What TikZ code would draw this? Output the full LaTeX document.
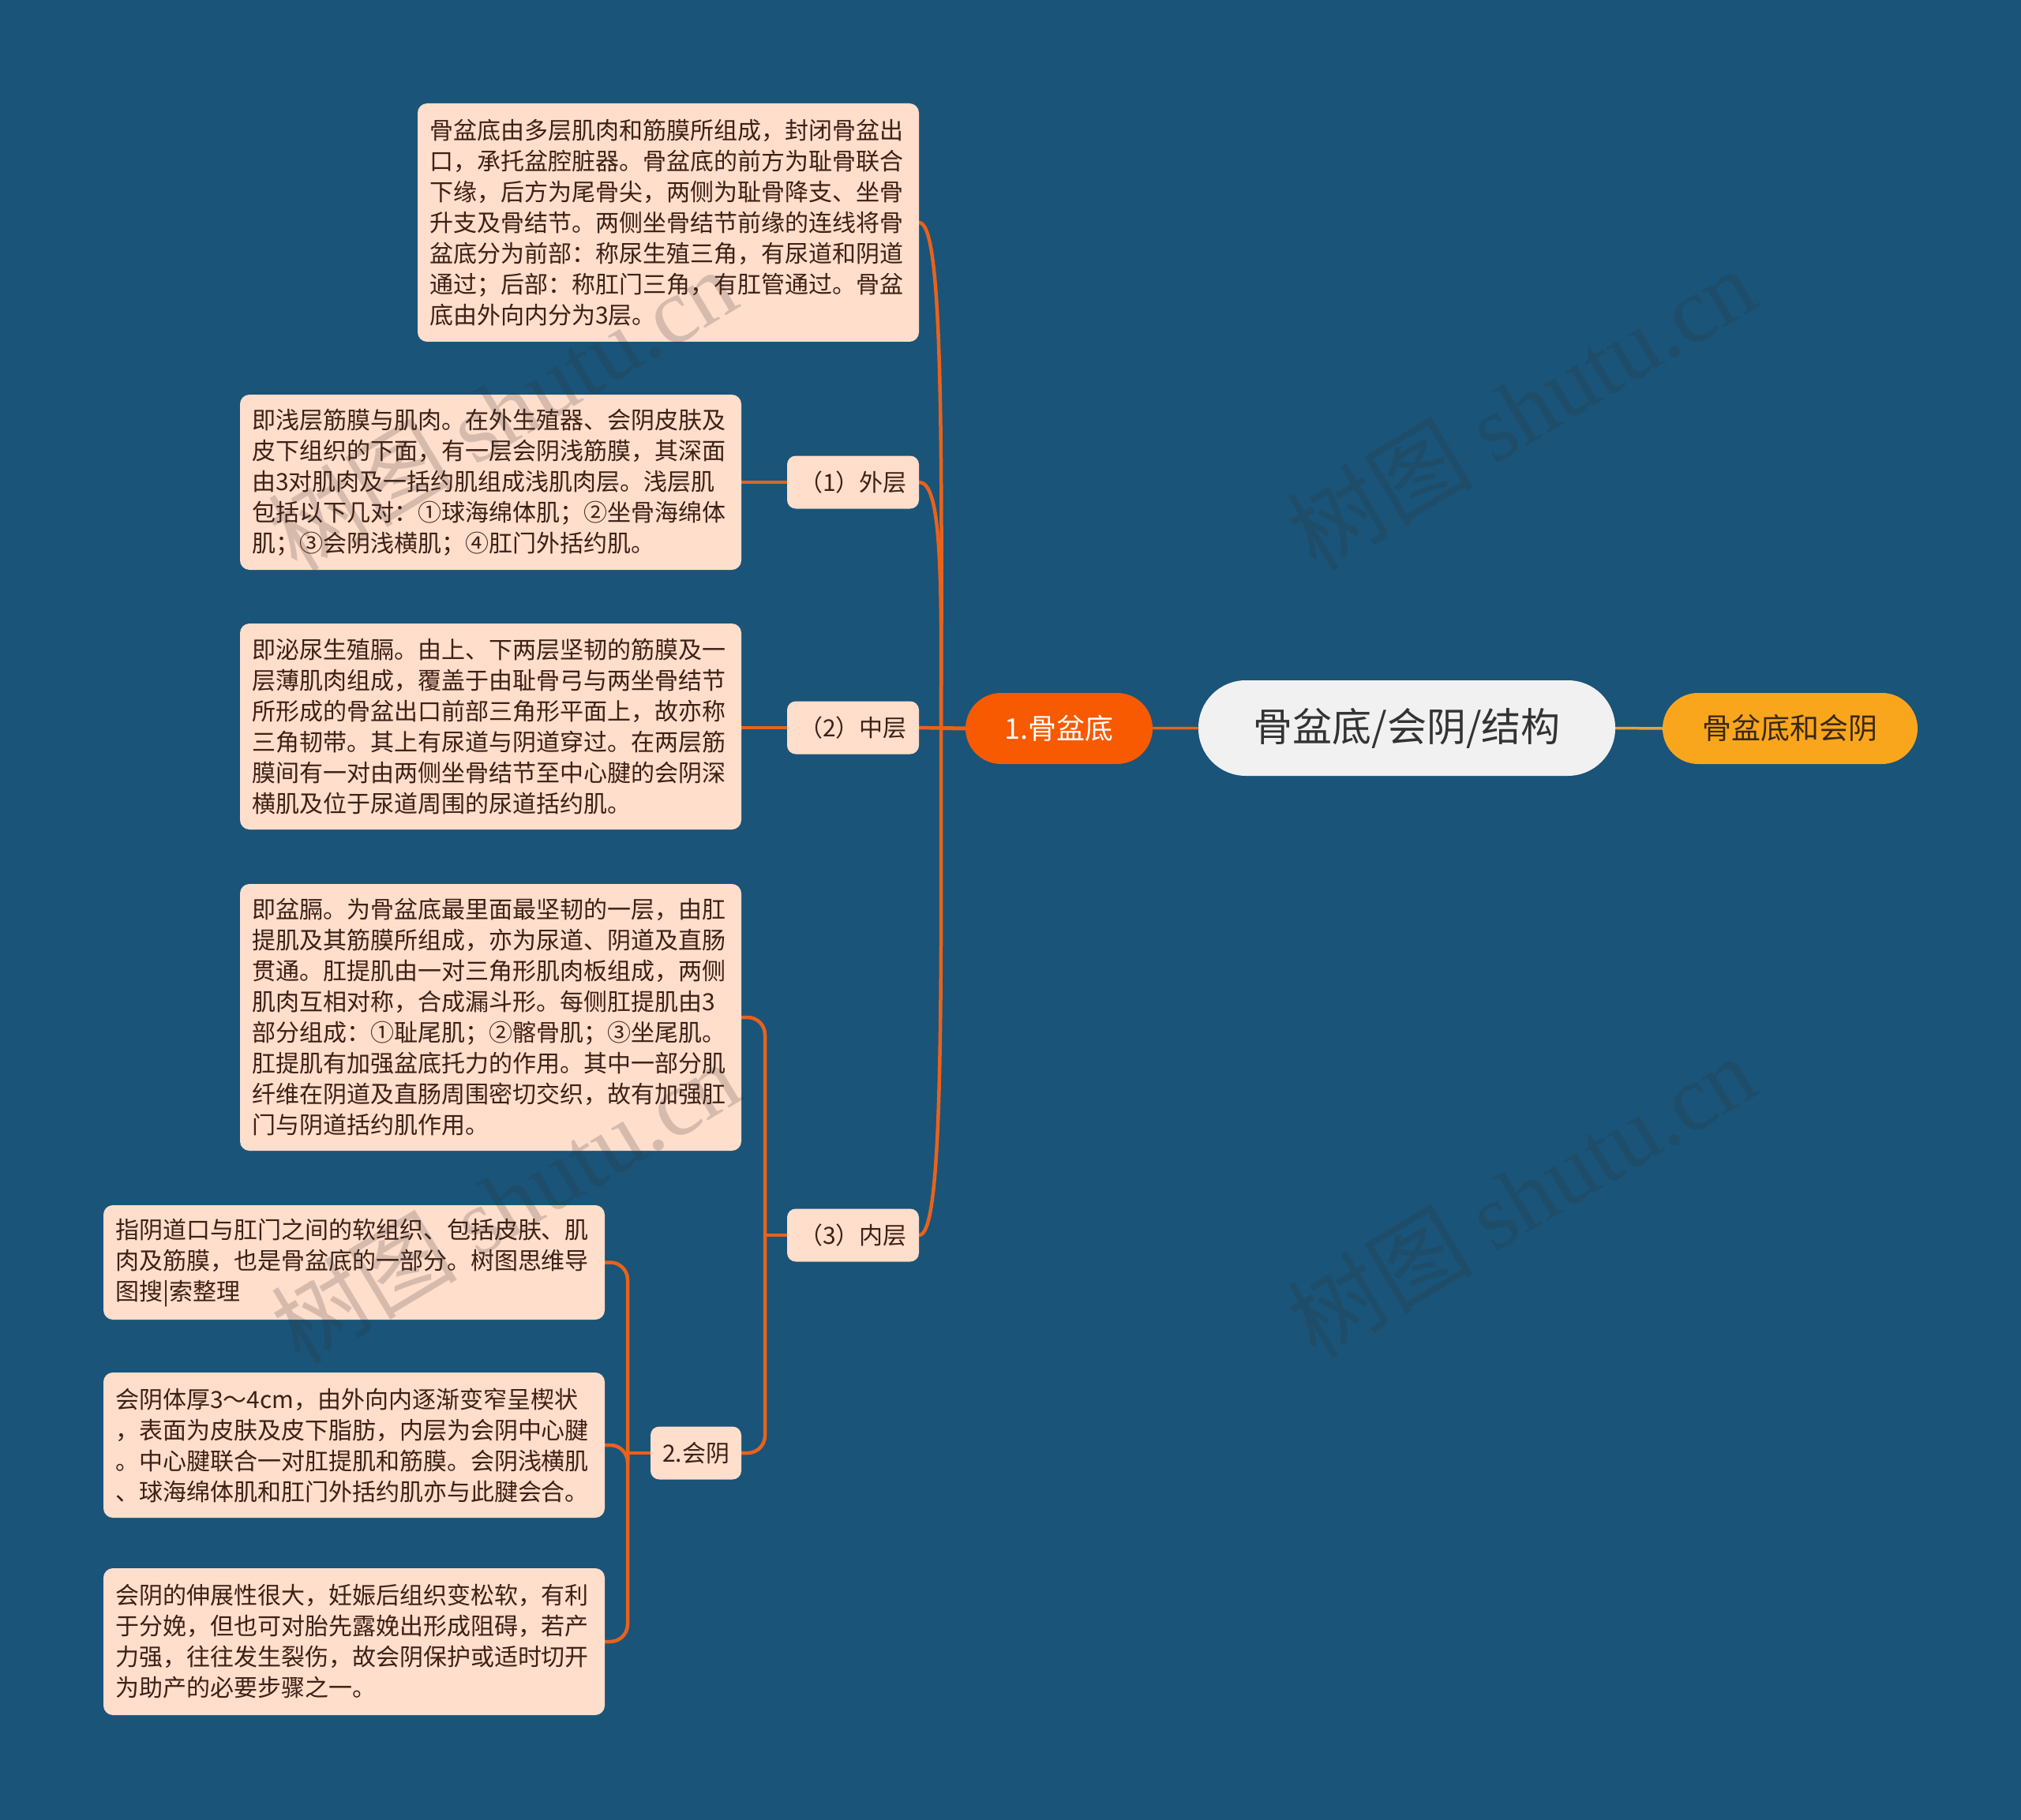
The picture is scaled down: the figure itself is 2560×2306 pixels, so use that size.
\documentclass[tikz,border=0pt]{standalone}
\usepackage{fontspec}
\newfontfamily\cjk{Noto Sans CJK SC}
\newfontfamily\wmlatin{Liberation Serif}
\definecolor{bg}{HTML}{1A5478}
\definecolor{peach}{HTML}{FFDECC}
\definecolor{txt}{HTML}{3E2015}
\definecolor{edge}{HTML}{E8621C}
\definecolor{rootfill}{HTML}{F1F1F1}
\definecolor{roottxt}{HTML}{333333}
\definecolor{mainfill}{HTML}{F75A00}
\definecolor{amber}{HTML}{FAA61C}
\definecolor{ambertxt}{HTML}{3A2812}
\definecolor{amberline}{HTML}{E3A436}
\definecolor{wmgray}{HTML}{323232}
\pgfdeclarelayer{bgfill}
\pgfdeclarelayer{edges}
\pgfsetlayers{bgfill,edges,main}
\begin{document}
\begin{tikzpicture}[x=1pt,y=-1pt,
  every node/.style={inner sep=0pt},
  txtbox/.style={fill=peach, rounded corners=12pt, text=txt,
    font=\cjk\fontsize{30}{39}\selectfont, text width=605pt,
    inner xsep=15pt, inner ysep=0pt, align=left},
  lblbox/.style={fill=peach, rounded corners=11pt, text=txt,
    font=\cjk\fontsize{30}{36}\selectfont, minimum width=167pt, minimum height=67pt},
  conn/.style={draw=edge, line width=4.5pt, line cap=round},
  elbow/.style={conn, rounded corners=22pt},
  wm/.style={font=\cjk\fontsize{118}{118}\selectfont, text=wmgray, text opacity=0.2, rotate=31}
]
\begin{pgfonlayer}{bgfill}
\fill[bg] (0,0) rectangle (2560,2306);
\end{pgfonlayer}
\useasboundingbox (0,0) rectangle (2560,2306);

% main nodes
\node[fill=rootfill, rounded corners=60pt, minimum width=528pt, minimum height=121pt,
  text=roottxt, font=\cjk\fontsize{50}{60}\selectfont] (root) at (1782,922.5) {骨盆底/会阴/结构};
\node[fill=amber, rounded corners=45pt, minimum width=323pt, minimum height=90pt,
  text=ambertxt, font=\cjk\fontsize{37}{44}\selectfont] (r1) at (2267.5,923) {骨盆底和会阴};
\node[fill=mainfill, rounded corners=45pt, minimum width=237pt, minimum height=90pt,
  text=white, font=\cjk\fontsize{36}{44}\selectfont] (b1) at (1341.5,923) {1.骨盆底};

% children of 1.骨盆底
\node[txtbox, minimum height=302pt] (top) at (846.5,282) {骨盆底由多层肌肉和筋膜所组成，封闭骨盆出\\
口，承托盆腔脏器。骨盆底的前方为耻骨联合\\
下缘，后方为尾骨尖，两侧为耻骨降支、坐骨\\
升支及骨结节。两侧坐骨结节前缘的连线将骨\\
盆底分为前部：称尿生殖三角，有尿道和阴道\\
通过；后部：称肛门三角，有肛管通过。骨盆\\
底由外向内分为3层。};
\node[lblbox] (l1) at (1080.5,611) {（1）外层};
\node[lblbox] (l2) at (1080.5,922) {（2）中层};
\node[lblbox] (l3) at (1080.5,1565) {（3）内层};

\node[txtbox, minimum height=222pt] (t1) at (621.5,611) {即浅层筋膜与肌肉。在外生殖器、会阴皮肤及\\
皮下组织的下面，有一层会阴浅筋膜，其深面\\
由3对肌肉及一括约肌组成浅肌肉层。浅层肌\\
包括以下几对：①球海绵体肌；②坐骨海绵体\\
肌；③会阴浅横肌；④肛门外括约肌。};
\node[txtbox, minimum height=261pt] (t2) at (621.5,920.5) {即泌尿生殖膈。由上、下两层坚韧的筋膜及一\\
层薄肌肉组成，覆盖于由耻骨弓与两坐骨结节\\
所形成的骨盆出口前部三角形平面上，故亦称\\
三角韧带。其上有尿道与阴道穿过。在两层筋\\
膜间有一对由两侧坐骨结节至中心腱的会阴深\\
横肌及位于尿道周围的尿道括约肌。};
\node[txtbox, minimum height=338pt] (t3) at (621.5,1289) {即盆膈。为骨盆底最里面最坚韧的一层，由肛\\
提肌及其筋膜所组成，亦为尿道、阴道及直肠\\
贯通。肛提肌由一对三角形肌肉板组成，两侧\\
肌肉互相对称，合成漏斗形。每侧肛提肌由3\\
部分组成：①耻尾肌；②髂骨肌；③坐尾肌。\\
肛提肌有加强盆底托力的作用。其中一部分肌\\
纤维在阴道及直肠周围密切交织，故有加强肛\\
门与阴道括约肌作用。};
\node[lblbox, minimum width=115pt] (g2) at (881.5,1841) {2.会阴};

\node[txtbox, minimum height=145pt] (a1) at (448.5,1599.5) {指阴道口与肛门之间的软组织、包括皮肤、肌\\
肉及筋膜，也是骨盆底的一部分。树图思维导\\
图搜|索整理};
\node[txtbox, minimum height=184pt] (a2) at (448.5,1831) {会阴体厚3～4cm，由外向内逐渐变窄呈楔状\\
，表面为皮肤及皮下脂肪，内层为会阴中心腱\\
。中心腱联合一对肛提肌和筋膜。会阴浅横肌\\
、球海绵体肌和肛门外括约肌亦与此腱会合。};
\node[txtbox, minimum height=186pt] (a3) at (448.5,2080) {会阴的伸展性很大，妊娠后组织变松软，有利\\
于分娩，但也可对胎先露娩出形成阻碍，若产\\
力强，往往发生裂伤，故会阴保护或适时切开\\
为助产的必要步骤之一。};

% connectors
\coordinate (j1) at (1192,922.5);
\coordinate (k3) at (969,1565);
\coordinate (k2) at (795,1841);
\begin{pgfonlayer}{edges}
\draw[draw=amberline, line width=3.5pt] (root.east) -- (r1.west);
\draw[conn, line width=3.5pt] (root.west) -- (b1.west);
\draw[conn, line width=5pt] (b1.west) -- (j1);
\draw[conn] (j1) .. controls (1194,500) and (1192,282) .. (top.east);
\draw[conn] (j1) .. controls (1193,720) and (1192,611) .. (l1.east);
\draw[conn] (j1) -- (l2.east);
\draw[conn] (j1) .. controls (1193,1340) and (1192,1565) .. (l3.east);
\draw[conn] (l1.west) -- (t1.east);
\draw[conn] (l2.west) -- (l2.west -| t2.east);
\draw[conn] (l3.west) -- (k3);
\draw[elbow] (t3.east) -| (k3);
\draw[elbow] (g2.east) -| (k3);
\draw[conn] (g2.west) -- (k2);
\draw[elbow] (a1.east) -| (k2);
\draw[elbow] (a2.east) -| (k2);
\draw[elbow] (a3.east) -| (k2);
\end{pgfonlayer}

% watermarks
\node[wm] (w1) at (636,518) {树图 {\wmlatin shutu.cn}};
\node[wm] (w2) at (1927,517) {树图 {\wmlatin shutu.cn}};
\node[wm] (w3) at (640,1522) {树图 {\wmlatin shutu.cn}};
\node[wm] (w4) at (1927,1515) {树图 {\wmlatin shutu.cn}};
\end{tikzpicture}
\end{document}
